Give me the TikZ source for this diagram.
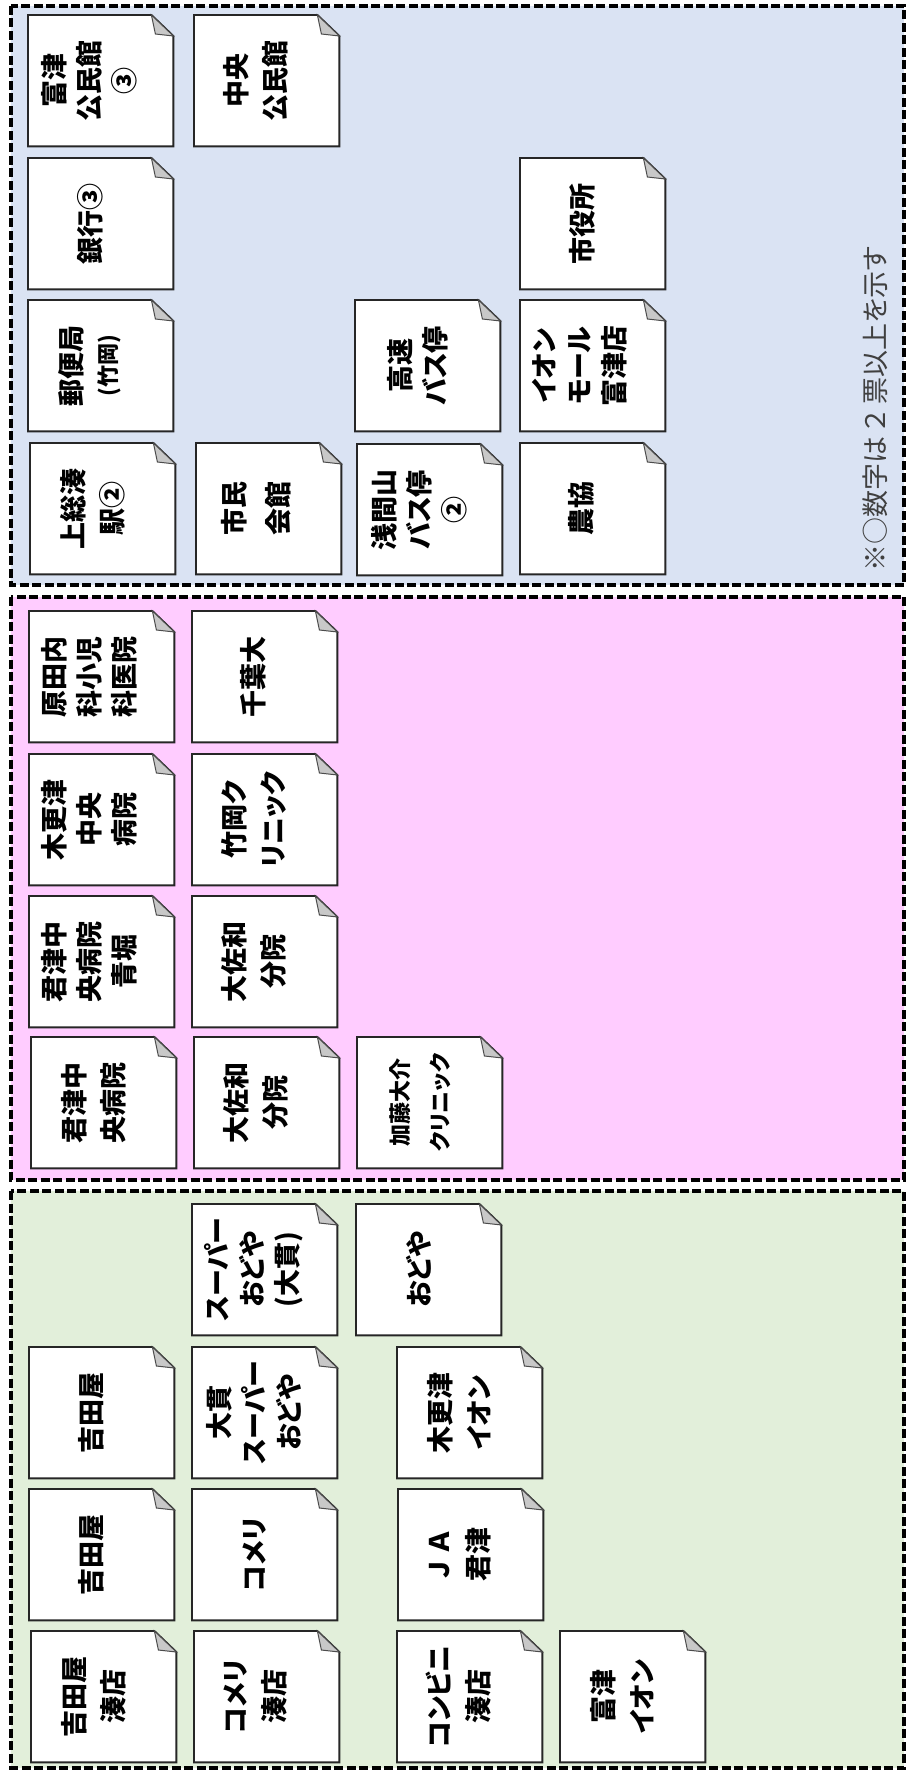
\documentclass[tikz,border=0pt]{standalone}
\usepackage{fontspec}
\newfontfamily\jpfont{Noto Sans CJK JP}[RawFeature=+palt]
\usetikzlibrary{positioning}
\definecolor{govblue}{HTML}{DAE3F3}
\definecolor{medpink}{HTML}{FFCCFF}
\definecolor{shopgreen}{HTML}{E2EFDA}
\definecolor{flapgray}{HTML}{C8C8C8}
\definecolor{notegray}{HTML}{404040}

\begin{document}
\begin{tikzpicture}[x=1pt,y=-1pt,
  panel/.style={draw=black,line width=3.6pt,dash pattern=on 9pt off 3.5pt},
  card/.style={anchor=north west,minimum width=145pt,minimum height=131pt,inner sep=0pt},
  lbl/.style={rotate=90,align=center,inner sep=0pt,
              font={\jpfont\bfseries\fontsize{27}{39}\selectfont}},
  lblthree/.style={lbl,font={\jpfont\bfseries\fontsize{27}{35}\selectfont}},
  lblsmall/.style={lbl,font={\jpfont\bfseries\fontsize{22}{40}\selectfont}},
  outline/.style={fill=white,draw=black!85,line width=1.9pt},
  flap/.style={fill=flapgray,draw=black!70,line width=1pt}]
\useasboundingbox (0,0) rectangle (907,1771);
\fill[white] (0,0) rectangle (907,1771);
\draw[panel,fill=govblue] (11,6) rectangle (904,585);
\draw[panel,fill=medpink] (11,597) rectangle (904,1180);
\draw[panel,fill=shopgreen] (11,1191) rectangle (904,1768);

\node[card] (futtsukom) at (28,15) {};
\node[card] (chuokom) at (194,15) {};
\node[card] (ginko) at (28,158) {};
\node[card] (shiyaku) at (520,158) {};
\node[card] (yubin) at (28,300) {};
\node[card] (kosoku) at (355,300) {};
\node[card] (aeonmall) at (520,300) {};
\node[card] (kazusa) at (30,443) {};
\node[card] (shimin) at (196,443) {};
\node[card] (sengen) at (357,444) {};
\node[card] (nokyo) at (520,443) {};

\node[card] (harada) at (29,611) {};
\node[card] (chiba) at (192,611) {};
\node[card] (kisachuo) at (29,754) {};
\node[card] (takecl) at (192,754) {};
\node[card] (aobori) at (29,896) {};
\node[card] (osawa) at (192,896) {};
\node[card] (kimichuo) at (31,1037) {};
\node[card] (osawab) at (194,1037) {};
\node[card] (kato) at (357,1037) {};

\node[card] (onuki) at (192,1204) {};
\node[card] (odoya) at (356,1204) {};
\node[card] (yoshi) at (29,1347) {};
\node[card] (onukisp) at (192,1347) {};
\node[card] (kisaeon) at (397,1347) {};
\node[card] (yoshib) at (29,1489) {};
\node[card] (komeri) at (192,1489) {};
\node[card] (ja) at (398,1489) {};
\node[card] (yoshimi) at (31,1631) {};
\node[card] (komemi) at (194,1631) {};
\node[card] (konbini) at (397,1631) {};
\node[card] (futaeon) at (560,1631) {};

\foreach \c in {futtsukom,chuokom,ginko,shiyaku,yubin,kosoku,aeonmall,kazusa,shimin,sengen,nokyo,
                harada,chiba,kisachuo,takecl,aobori,osawa,kimichuo,osawab,kato,
                onuki,odoya,yoshi,onukisp,kisaeon,yoshib,komeri,ja,yoshimi,komemi,konbini,futaeon} {
  \draw[outline] (\c.south west) -- (\c.north west) -- ([xshift=-22pt]\c.north east)
    -- ([yshift=-21pt]\c.north east) -- (\c.south east) -- cycle;
  \draw[flap] ([xshift=-22pt]\c.north east) -- ([yshift=-21pt]\c.north east)
    -- ([xshift=-18pt,yshift=-19pt]\c.north east) -- cycle;
}

\node[lblthree] (futtsukom-t) at ([xshift=-11pt]futtsukom.center) {富津\\公民館\\③};
\node[lbl] (chuokom-t) at ([xshift=-11pt]chuokom.center) {中央\\公民館};
\node[lbl] (ginko-t) at ([xshift=-10pt]ginko.center) {銀行③};
\node[lbl] (shiyaku-t) at ([xshift=-10pt]shiyaku.center) {市役所};
\node[lblthree] (yubin-t) at ([xshift=-11pt]yubin.center) {郵便局\\{\fontsize{22}{35}\selectfont(竹岡)}};
\node[lblthree] (kosoku-t) at ([xshift=-10pt]kosoku.center) {高速\\バス停};
\node[lblthree] (aeonmall-t) at ([xshift=-13pt]aeonmall.center) {イオン\\モール\\富津店};
\node[lbl] (kazusa-t) at ([xshift=-10pt]kazusa.center) {上総湊\\駅②};
\node[lbl] (shimin-t) at ([xshift=-13pt]shimin.center) {市民\\[5pt]会館};
\node[lblthree] (sengen-t) at ([xshift=-11pt]sengen.center) {浅間山\\バス停\\②};
\node[lbl] (nokyo-t) at ([xshift=-11pt]nokyo.center) {農協};

\node[lblthree] (harada-t) at ([xshift=-12pt]harada.center) {原田内\\科小児\\科医院};
\node[lbl] (chiba-t) at ([xshift=-11pt]chiba.center) {千葉大};
\node[lblthree] (kisachuo-t) at ([xshift=-12pt]kisachuo.center) {木更津\\中央\\病院};
\node[lbl] (takecl-t) at ([xshift=-11pt]takecl.center) {竹岡ク\\リニック};
\node[lblthree] (aobori-t) at ([xshift=-12pt]aobori.center) {君津中\\央病院\\青堀};
\node[lbl] (osawa-t) at ([xshift=-11pt]osawa.center) {大佐和\\分院};
\node[lbl] (kimichuo-t) at ([xshift=-10pt]kimichuo.center) {君津中\\央病院};
\node[lbl] (osawab-t) at ([xshift=-11pt]osawab.center) {大佐和\\分院};
\node[lblsmall] (kato-t) at ([xshift=-10pt]kato.center) {加藤大介\\クリニック};

\node[lblthree] (onuki-t) at ([xshift=-11pt]onuki.center) {スーパー\\おどや\\(大貫)};
\node[lbl] (odoya-t) at ([xshift=-10pt]odoya.center) {おどや};
\node[lbl] (yoshi-t) at ([xshift=-10pt]yoshi.center) {吉田屋};
\node[lblthree] (onukisp-t) at ([xshift=-11pt]onukisp.center) {大貫\\スーパー\\おどや};
\node[lbl] (kisaeon-t) at ([xshift=-11pt]kisaeon.center) {木更津\\イオン};
\node[lbl] (yoshib-t) at ([xshift=-10pt]yoshib.center) {吉田屋};
\node[lbl] (komeri-t) at ([xshift=-10pt]komeri.center) {コメリ};
\node[lbl] (ja-t) at ([xshift=-11pt]ja.center) {Ｊ\hspace{8pt}Ａ\\君津};
\node[lbl] (yoshimi-t) at ([xshift=-10pt]yoshimi.center) {吉田屋\\湊店};
\node[lbl] (komemi-t) at ([xshift=-11pt]komemi.center) {コメリ\\湊店};
\node[lbl] (konbini-t) at ([xshift=-11pt]konbini.center) {コンビニ\\湊店};
\node[lbl] (futaeon-t) at ([xshift=-11pt]futaeon.center) {富津\\イオン};

\node[rotate=90,anchor=west,inner sep=0pt,text=notegray,
      font={\jpfont\fontsize{27}{30}\selectfont}] (note) at (875,572) {※○数字は\hspace{6pt}２\hspace{6pt}票以上を示す};
\end{tikzpicture}
\end{document}
